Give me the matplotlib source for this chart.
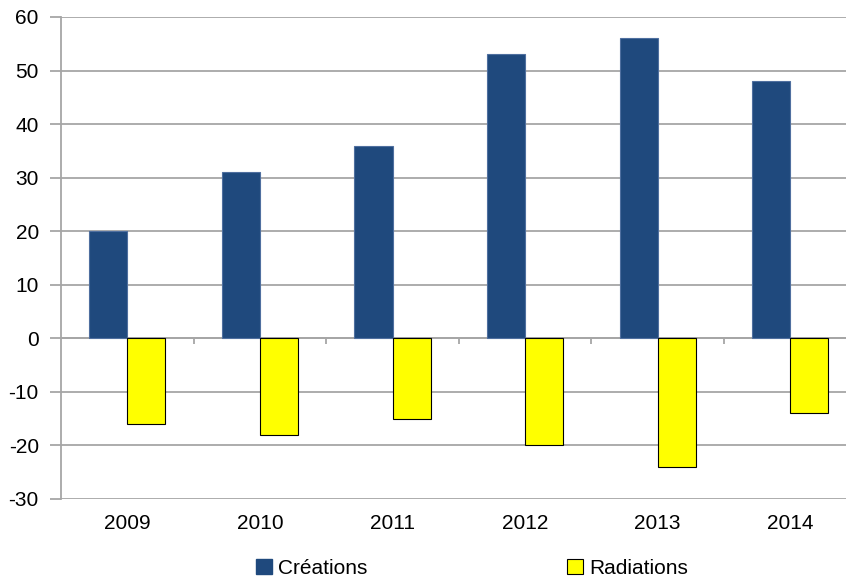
#!/usr/bin/env python3
"""Créations et radiations par année (barres groupées)."""

import numpy as np
import matplotlib
matplotlib.use('Agg')
import matplotlib.pyplot as plt
from matplotlib.patches import Patch

years = ['2009', '2010', '2011', '2012', '2013', '2014']
creations = [20, 31, 36, 53, 56, 48]
radiations = [-16, -18, -15, -20, -24, -14]

plt.rcParams['font.family'] = ['Liberation Sans Narrow', 'Liberation Sans', 'DejaVu Sans']
plt.rcParams['axes.unicode_minus'] = False

BLUE = '#1F497D'
YELLOW = '#FFFF00'
GRID = '#A6A6A6'


def main():
    fig = plt.figure(figsize=(8.46, 5.80), dpi=100)
    # plot area runs a little past the right edge of the image, as in the original
    ax = fig.add_axes([61 / 846, 1 - 499 / 580, 795.6 / 846, (499 - 17) / 580])

    x = np.arange(len(years))
    w = 0.287
    ax.bar(x - w / 2, creations, w, color=BLUE, edgecolor='#4F6F9F', linewidth=0.8, zorder=3)
    ax.bar(x + w / 2, radiations, w, color=YELLOW, edgecolor='black', linewidth=0.8, zorder=3)

    ax.set_xlim(-0.5, len(years) - 0.5)
    ax.set_ylim(-30, 60)
    ax.set_yticks(range(-30, 61, 10))
    ax.yaxis.grid(True, color=GRID, linewidth=1.3, zorder=0)
    ax.set_axisbelow(True)

    # zero line with category separators
    ax.axhline(0, color=GRID, linewidth=1.3, zorder=2)
    ax.vlines(x[:-1] + 0.5, -1.1, 0, color=GRID, linewidth=1.3, zorder=2)

    for side in ['top', 'right', 'bottom']:
        ax.spines[side].set_visible(False)
    ax.spines['left'].set_color(GRID)
    ax.spines['left'].set_linewidth(1.3)

    ax.set_xticks(x)
    ax.set_xticklabels(years)
    ax.tick_params(axis='x', length=0, pad=11, labelsize=15, colors='black')
    ax.tick_params(axis='y', length=8, width=1.3, color=GRID, pad=8, labelsize=15)

    handles = [Patch(facecolor=BLUE, edgecolor=BLUE),
               Patch(facecolor=YELLOW, edgecolor='black', linewidth=0.8)]
    fig.legend(handles, ['Créations', 'Radiations'], loc='center',
               bbox_to_anchor=(472 / 846, 1 - 568 / 580), ncol=2, frameon=False,
               fontsize=15, handlelength=0.75, handleheight=0.75, handletextpad=0.3,
               columnspacing=9.6)

    fig.savefig('out.png', dpi=100)
    plt.close(fig)


if __name__ == '__main__':
    main()
